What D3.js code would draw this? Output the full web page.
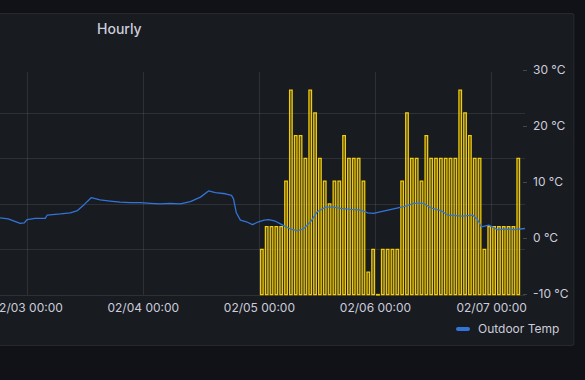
<!DOCTYPE html>
<html>
<head>
<meta charset="utf-8">
<script src="https://cdn.jsdelivr.net/npm/d3@7"></script>
<style>
  html, body { margin: 0; padding: 0; background: #111217; }
  svg { display: block; font-family: Inter, "Noto Sans", sans-serif; }
</style>
</head>
<body>
<svg width="585" height="380"></svg>
<script>
  const parseTime = d3.timeParse('%m/%d %H:%M');

  // Outdoor temperature (°C)
  const tempTimes = [
    '02/02 18:30', '02/02 20:10', '02/02 21:25', '02/02 22:40', '02/02 23:30',
    '02/03 00:06', '02/03 01:45', '02/03 03:50', '02/03 04:15', '02/03 07:00',
    '02/03 09:00', '02/03 10:30', '02/03 11:55', '02/03 13:20', '02/03 15:10',
    '02/03 17:15', '02/03 19:20', '02/03 21:25', '02/03 23:30', '02/04 01:35',
    '02/04 03:35', '02/04 05:40', '02/04 07:45', '02/04 09:50', '02/04 11:55',
    '02/04 13:35', '02/04 15:00', '02/04 17:05', '02/04 18:20', '02/04 18:45',
    '02/04 19:20', '02/04 20:10', '02/04 21:25', '02/04 22:40', '02/04 23:55',
    '02/05 01:05', '02/05 02:00', '02/05 03:25', '02/05 04:55', '02/05 06:30',
    '02/05 07:55', '02/05 09:10', '02/05 10:40', '02/05 12:05', '02/05 13:45',
    '02/05 15:25', '02/05 16:55', '02/05 18:55', '02/05 21:00', '02/05 22:30',
    '02/05 23:40', '02/06 01:45', '02/06 03:50', '02/06 05:55', '02/06 08:00',
    '02/06 10:00', '02/06 11:30', '02/06 13:35', '02/06 15:00', '02/06 16:40',
    '02/06 18:05', '02/06 20:10', '02/06 21:10', '02/06 22:00', '02/06 23:30',
    '02/07 01:20', '02/07 03:00', '02/07 04:40', '02/07 07:00'
  ];
  const tempValues = [
    3.6, 3.4, 3.0, 2.6, 2.7,
    3.3, 3.5, 3.5, 4.1, 4.3,
    4.5, 4.9, 6.0, 7.2, 6.8,
    6.6, 6.4, 6.3, 6.3, 6.2,
    6.1, 6.2, 6.1, 6.5, 7.3,
    8.4, 8.1, 7.9, 7.6, 7.0,
    4.5, 3.2, 2.9, 2.4, 2.9,
    3.2, 3.3, 3.0, 2.3, 1.6,
    1.3, 1.6, 2.9, 4.7, 5.5,
    5.5, 5.3, 5.1, 5.0, 4.5,
    4.4, 4.8, 5.2, 5.6, 6.2,
    6.2, 5.4, 4.9, 4.1, 4.0,
    3.9, 4.1, 3.3, 2.0, 2.3,
    1.5, 1.6, 1.5, 1.7
  ];

  // Hourly bars (hidden left axis), one per hour from barStart
  const barStart = '02/05 01:00';
  const barValues = [
    2, 3, 3, 3, 3, 5, 9, 7, 7, 6,
    9, 8, 6, 5, 4, 5, 5, 7, 6, 6,
    6, 5, 1, 2, 0, 2, 2, 2, 2, 5,
    8, 6, 6, 5, 7, 6, 6, 6, 6, 6,
    6, 9, 8, 7, 6, 6, 2, 3, 3, 3,
    3, 3, 3, 6
  ];

  const timeRange = ['02/02 18:29', '02/07 07:00'];
  const dayTicks = ['02/03 00:00', '02/04 00:00', '02/05 00:00', '02/06 00:00', '02/07 00:00'];
  const leftTicks = [0, 2, 4, 6, 8];
  const rightTicks = [-10, 0, 10, 20, 30];

  const svg = d3.select('svg');
  const textColor = '#ccccdc';
  const gridColor = 'rgba(204, 204, 220, 0.12)';
  const lineColor = '#3274d9';
  const barColor = '#f2cc0c';

  // panel
  svg.append('rect')
    .attr('x', -5).attr('y', 13.5)
    .attr('width', 579).attr('height', 332)
    .attr('rx', 2)
    .attr('fill', '#181b1f')
    .attr('stroke', 'rgba(204, 204, 220, 0.10)');

  svg.append('text')
    .attr('x', 97).attr('y', 34)
    .attr('fill', textColor)
    .attr('font-size', 14)
    .attr('font-weight', 500)
    .text('Hourly');

  const plot = { left: 0, right: 525, top: 72, bottom: 295 };

  const x = d3.scaleTime()
    .domain(timeRange.map(parseTime))
    .range([plot.left, plot.right]);
  const yBar = d3.scaleLinear().domain([0, 9.8]).range([plot.bottom, plot.top]);
  const yTemp = d3.scaleLinear().domain([-10, 30]).range([plot.bottom - 1, plot.top - 2]);

  // grid
  const grid = svg.append('g');
  grid.selectAll('line.h').data(leftTicks)
    .enter().append('line')
      .attr('class', 'h')
      .attr('x1', plot.left).attr('x2', plot.right)
      .attr('y1', d => Math.round(yBar(d)) + 0.5)
      .attr('y2', d => Math.round(yBar(d)) + 0.5)
      .attr('stroke', gridColor);
  grid.selectAll('line.v').data(dayTicks.map(parseTime))
    .enter().append('line')
      .attr('class', 'v')
      .attr('x1', d => Math.round(x(d)) + 0.5)
      .attr('x2', d => Math.round(x(d)) + 0.5)
      .attr('y1', plot.top).attr('y2', plot.bottom)
      .attr('stroke', gridColor);

  // bars
  const barTimes = barValues.map((v, i) => d3.timeHour.offset(parseTime(barStart), i));
  const bw = 2.6;
  svg.append('g').selectAll('path').data(barValues)
    .enter().append('path')
      .attr('d', (v, i) => {
        const x1 = x(barTimes[i]) - 0.6;
        const x0 = x1 - bw;
        const y0 = plot.bottom - 0.5;
        const y1 = yBar(v);
        return `M${x0},${y0}V${y1}H${x1}V${y0}Z`;
      })
      .attr('fill', 'rgba(242, 204, 12, 0.3)')
      .attr('stroke', barColor)
      .attr('stroke-width', 1.25);

  // temperature line
  const tempData = tempTimes.map((t, i) => ({ t: parseTime(t), v: tempValues[i] }));
  svg.append('path')
    .datum(tempData)
    .attr('fill', 'none')
    .attr('stroke', lineColor)
    .attr('stroke-width', 1.3)
    .attr('stroke-linejoin', 'round')
    .attr('d', d3.line().x(d => x(d.t)).y(d => yTemp(d.v)));

  // bottom axis
  const xAxis = svg.append('g')
    .attr('transform', `translate(0,${plot.bottom})`)
    .call(d3.axisBottom(x)
      .tickValues(dayTicks.map(parseTime))
      .tickFormat(d3.timeFormat('%m/%d %H:%M'))
      .tickSize(0)
      .tickPadding(8));
  xAxis.select('.domain').remove();
  xAxis.selectAll('text')
    .attr('fill', textColor)
    .attr('font-size', 12)
    .attr('font-family', 'Inter, "Noto Sans", sans-serif');

  // right axis
  const yAxis = svg.append('g')
    .attr('transform', `translate(${plot.right - 2},0)`)
    .call(d3.axisRight(yTemp)
      .tickValues(rightTicks)
      .tickFormat(d => d + ' °C')
      .tickSize(4)
      .tickPadding(6));
  yAxis.select('.domain').remove();
  yAxis.selectAll('line').attr('stroke', 'rgba(204, 204, 220, 0.25)');
  yAxis.selectAll('text')
    .attr('fill', textColor)
    .attr('font-size', 12)
    .attr('font-family', 'Inter, "Noto Sans", sans-serif');

  // legend
  const legend = svg.append('g').attr('transform', 'translate(456,329)');
  legend.append('rect')
    .attr('x', 0).attr('y', -2)
    .attr('width', 14).attr('height', 4)
    .attr('rx', 2)
    .attr('fill', lineColor);
  legend.append('text')
    .attr('x', 22).attr('y', 0)
    .attr('dy', '0.35em')
    .attr('fill', textColor)
    .attr('font-size', 12)
    .text('Outdoor Temp');
</script>
</body>
</html>
